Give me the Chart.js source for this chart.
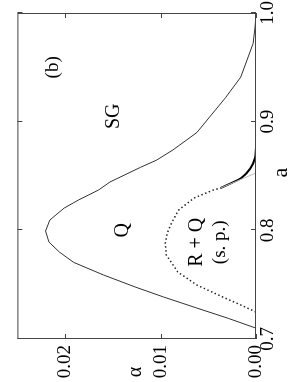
<!DOCTYPE html>
<html><head><meta charset="utf-8">
<script src="https://cdn.jsdelivr.net/npm/chart.js@4.4.1/dist/chart.umd.min.js"></script>
<style>
html,body{margin:0;padding:0;background:#fff;overflow:hidden;}
#stage{position:relative;width:291px;height:382px;overflow:hidden;background:#fff;}
#rot{position:absolute;left:0;top:0;width:382px;height:291px;transform-origin:0 0;transform:translate(0px,382px) rotate(-90deg);}
</style></head><body>
<div id="stage"><div id="rot"><canvas id="c" width="382" height="291"></canvas></div></div>
<script>
// Q / SG boundary (thin solid)
const solidA     = [0.710, 0.719, 0.7285, 0.7387, 0.748, 0.759, 0.7705, 0.780, 0.7893, 0.7994, 0.8095, 0.8205, 0.8279, 0.8371, 0.8445, 0.858, 0.8647, 0.874, 0.890, 0.922, 0.941, 0.972, 0.987, 0.998];
const solidAlpha = [0, 0.0029, 0.0062, 0.0097, 0.0127, 0.0160, 0.0191, 0.0206, 0.0217, 0.02205, 0.0216, 0.0201, 0.0186, 0.0165, 0.0153, 0.0121, 0.0104, 0.0087, 0.0062, 0.0032, 0.0016, 0.0003, 0.0001, 0];
// R+Q boundary (dotted)
const dottedA     = [0.7248, 0.7313, 0.7387, 0.7497, 0.7617, 0.7773, 0.788, 0.7975, 0.8077, 0.8187, 0.8297, 0.837, 0.839];
const dottedAlpha = [0, 0.0016, 0.0035, 0.0062, 0.0082, 0.0094, 0.0095, 0.0093, 0.0088, 0.0081, 0.0065, 0.0045, 0.0037];
// thick solid continuation
const thickA     = [0.839, 0.8436, 0.848, 0.857, 0.8666, 0.876];
const thickAlpha = [0.0037, 0.00256, 0.00157, 0.00059, 0.0001, 0];
// faint gray continuation
const grayA     = [0.839, 0.8528];
const grayAlpha = [0.0037, 0];

const xTickLabels = ['0.7', '0.8', '0.9', '1.0'];
const yTickLabels = ['0.00', '0.01', '0.02'];
const regionTexts = ['(b)', 'SG', 'Q', 'R + Q', '(s. p.)'];
const xTitle = 'a';
const yTitle = 'α';

// annotation placement (data coordinates) and sizes
const regionPlace = [
  {a: 0.950, al: 0.0213, size: 19},
  {a: 0.905, al: 0.0149, size: 20},
  {a: 0.800, al: 0.0140, size: 20},
  {a: 0.789, al: 0.0062, size: 20},
  {a: 0.789, al: 0.0038, size: 19}
];

const pts = (xs, ys) => xs.map((v, i) => ({x: v, y: ys[i]}));
const FONT = '"Liberation Serif", "DejaVu Serif", serif';
Chart.defaults.font.family = FONT;

const lookup = (labels) => (v) => {
  for (const l of labels) if (Math.abs(parseFloat(l) - v) < 1e-9) return l;
  return null;
};

const decor = {
  id: 'decor',
  afterDatasetsDraw(chart) {
    const {ctx, chartArea: ca, scales: {x, y}} = chart;
    ctx.save();
    ctx.strokeStyle = '#444';
    ctx.lineWidth = 1;
    ctx.strokeRect(ca.left + 0.5, ca.top + 0.5, ca.right - ca.left - 1, ca.bottom - ca.top - 1);
    ctx.beginPath();
    const L = 5;
    x.ticks.forEach(t => {
      const p = Math.round(x.getPixelForValue(t.value)) + 0.5;
      ctx.moveTo(p, ca.bottom); ctx.lineTo(p, ca.bottom - L);
      ctx.moveTo(p, ca.top); ctx.lineTo(p, ca.top + L);
    });
    y.ticks.forEach(t => {
      const p = Math.round(y.getPixelForValue(t.value)) + 0.5;
      ctx.moveTo(ca.left, p); ctx.lineTo(ca.left + L, p);
      ctx.moveTo(ca.right, p); ctx.lineTo(ca.right - L, p);
    });
    ctx.stroke();
    ctx.restore();
  },
  afterDraw(chart) {
    const {ctx, chartArea: ca, scales: {x, y}} = chart;
    ctx.save();
    ctx.fillStyle = '#000';
    ctx.textAlign = 'center';
    ctx.textBaseline = 'middle';
    regionTexts.forEach((t, i) => {
      const p = regionPlace[i];
      ctx.font = p.size + 'px ' + FONT;
      ctx.fillText(t, x.getPixelForValue(p.a), y.getPixelForValue(p.al));
    });
    ctx.font = '22px ' + FONT;
    ctx.fillText(xTitle, x.getPixelForValue(0.853), chart.height - 10);
    ctx.font = '20px ' + FONT;
    ctx.fillText(yTitle, 10, y.getPixelForValue(0.0126));
    ctx.restore();
  }
};

new Chart(document.getElementById('c'), {
  type: 'scatter',
  data: {
    datasets: [
      {data: pts(grayA, grayAlpha), showLine: true, borderColor: '#bbbbbb', borderWidth: 1, pointRadius: 0, tension: 0},
      {data: pts(solidA, solidAlpha), showLine: true, borderColor: '#333', borderWidth: 1, pointRadius: 0, tension: 0},
      {data: pts(dottedA, dottedAlpha), showLine: true, borderColor: '#222', borderWidth: 1.5, borderDash: [1.5, 2.5], pointRadius: 0, tension: 0},
      {data: pts(thickA, thickAlpha), showLine: true, borderColor: '#000', borderWidth: 2, pointRadius: 0, tension: 0.3}
    ]
  },
  options: {
    responsive: false,
    animation: false,
    devicePixelRatio: 1,
    layout: {padding: {top: 2, right: 13, left: 0, bottom: 0}},
    plugins: {legend: {display: false}, tooltip: {enabled: false}},
    scales: {
      x: {
        type: 'linear', min: 0.7, max: 1.0,
        grid: {display: false, drawTicks: false},
        border: {display: false},
        ticks: {stepSize: 0.05, autoSkip: false, maxRotation: 0, padding: 1, color: '#000',
                font: {size: 19, family: FONT}, callback: lookup(xTickLabels)},
        afterFit: (s) => { s.height = 35; }
      },
      y: {
        type: 'linear', min: 0, max: 0.025,
        grid: {display: false, drawTicks: false},
        border: {display: false},
        ticks: {stepSize: 0.005, autoSkip: false, padding: 6, color: '#000',
                font: {size: 19, family: FONT}, callback: lookup(yTickLabels)},
        afterFit: (s) => { s.width = 43; }
      }
    }
  },
  plugins: [decor]
});
</script>
</body></html>
